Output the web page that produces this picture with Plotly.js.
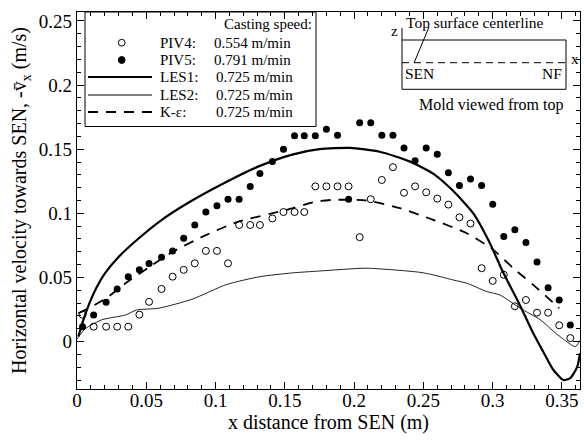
<!DOCTYPE html>
<html>
<head>
<meta charset="utf-8">
<script src="https://cdn.plot.ly/plotly-3.0.1.min.js"></script>
<style>html,body{margin:0;padding:0;background:#fff;}#chart{width:584px;height:443px;}</style>
</head>
<body>
<div id="chart"></div>
<script>
// ---- data ----
var xPIV = [0.004,0.012,0.021,0.029,0.037,0.045,0.052,0.061,0.069,0.077,0.085,0.093,0.101,0.109,0.117,0.125,0.132,0.141,0.149,0.157,0.164,0.172,0.180,0.188,0.196,0.204,0.212,0.220,0.228,0.236,0.244,0.252,0.260,0.268,0.276,0.284,0.292,0.300,0.308,0.316,0.324,0.332,0.340,0.348,0.356];
var yPIV4 = [0.021,0.0116,0.0116,0.0116,0.0116,0.021,0.031,0.041,0.0506,0.0559,0.061,0.0707,0.0707,0.061,0.0909,0.0909,0.0909,0.096,0.101,0.101,0.101,0.121,0.121,0.121,0.121,0.0814,0.111,0.126,0.136,0.116,0.121,0.1164,0.1115,0.1068,0.0969,0.092,0.0572,0.0473,0.0521,0.0275,0.0324,0.0225,0.0225,0.0127,0.0027];
var yPIV5 = [0.0116,0.0207,0.0306,0.041,0.0506,0.0559,0.0608,0.0658,0.0707,0.0806,0.0908,0.101,0.106,0.111,0.111,0.121,0.131,0.1405,0.150,0.1605,0.1605,0.1605,0.1656,0.1608,0.111,0.1707,0.1707,0.1608,0.1608,0.151,0.141,0.151,0.146,0.1316,0.1217,0.1267,0.1217,0.107,0.0819,0.0871,0.0772,0.0621,0.042,0.0324,0.0129];

var xLES1 = [0.001,0.004,0.009,0.014,0.02,0.03,0.044,0.06,0.08,0.107,0.132,0.156,0.175,0.197,0.2185,0.24,0.257,0.271,0.286,0.298,0.3066,0.3198,0.329,0.339,0.3437,0.351,0.356,0.361,0.363];
var yLES1 = [0.004,0.015,0.030,0.042,0.053,0.066,0.080,0.094,0.108,0.124,0.137,0.146,0.150,0.151,0.148,0.1405,0.131,0.118,0.100,0.0767,0.056,0.028,0.007,-0.013,-0.022,-0.030,-0.0285,-0.0197,-0.009];

var xLES2 = [0.0,0.006,0.018,0.035,0.043,0.059,0.083,0.108,0.132,0.155,0.175,0.209,0.2475,0.257,0.2716,0.2813,0.2957,0.3053,0.3198,0.3343,0.346,0.356,0.3596,0.3632];
var yLES2 = [0.002,0.010,0.017,0.0207,0.0246,0.026,0.033,0.0445,0.0506,0.0535,0.055,0.0572,0.054,0.052,0.048,0.0455,0.039,0.0363,0.026,0.017,0.006,-0.002,-0.004,0.001];

var xKE = [0.001,0.02,0.037,0.052,0.069,0.091,0.115,0.151,0.1727,0.1847,0.2089,0.233,0.2571,0.2813,0.3005,0.315,0.3295,0.344,0.348];
var yKE = [0.022,0.033,0.047,0.058,0.070,0.082,0.093,0.1027,0.1092,0.1105,0.110,0.104,0.0949,0.0845,0.0715,0.057,0.044,0.030,0.026];

var xTicks = [0,0.05,0.1,0.15,0.2,0.25,0.3,0.35];
var xTickText = ['0','0.05','0.1','0.15','0.2','0.25','0.3','0.35'];
var yTicks = [0,0.05,0.1,0.15,0.2,0.25];
var yTickText = ['0','0.05','0.1','0.15','0.2','0.25'];

var legendNames = ['PIV4:','PIV5:','LES1:','LES2:','K-\u03B5:'];
var legendSpeeds = ['0.554 m/min','0.791 m/min','0.725 m/min','0.725 m/min','0.725 m/min'];

// ---- layout helpers (pixel -> paper) ----
var ML = 77, MR = 4, MT = 12, MB = 54, W = 584, H = 443;
var PW = W - ML - MR, PH = H - MT - MB;
function px(x){ return (x - ML) / PW; }
function py(y){ return (H - MB - y) / PH; }
var FONT = 'Liberation Serif, Times New Roman, serif';

var traces = [
  {x:xLES2, y:yLES2, mode:'lines', line:{color:'#222', width:1, shape:'spline', smoothing:0.6}, showlegend:false, hoverinfo:'skip'},
  {x:xKE, y:yKE, mode:'lines', line:{color:'#000', width:1.8, dash:'10px,8px', shape:'spline', smoothing:0.6}, showlegend:false},
  {x:xLES1, y:yLES1, mode:'lines', line:{color:'#000', width:2.2, shape:'spline', smoothing:0.6}, showlegend:false},
  {x:xPIV, y:yPIV4, mode:'markers', marker:{symbol:'circle-open', size:7, color:'#000', line:{width:1, color:'#000'}}, showlegend:false},
  {x:xPIV, y:yPIV5, mode:'markers', marker:{symbol:'circle', size:7, color:'#000'}, showlegend:false}
];

var shapes = [];
var annotations = [];
function line(x0,y0,x1,y1,w,dash){
  shapes.push({type:'line', xref:'paper', yref:'paper', x0:px(x0), y0:py(y0), x1:px(x1), y1:py(y1), line:{color:'#000', width:w, dash:dash||'solid'}});
}
function text(t,x,y,anchor,size){
  annotations.push({text:t, xref:'paper', yref:'paper', x:px(x), y:py(y), xanchor:anchor||'left', yanchor:'middle', showarrow:false, font:{family:FONT, size:size||15, color:'#000'}, borderpad:0});
}

// legend box
shapes.push({type:'rect', xref:'paper', yref:'paper', x0:px(85), x1:px(316), y0:py(126.5), y1:py(12), line:{color:'#000', width:1}, fillcolor:'rgba(0,0,0,0)'});
text('Casting speed:', 313, 24, 'right');
var rowY = [43, 60, 77, 95, 112];
shapes.push({type:'circle', xref:'paper', yref:'paper', x0:px(118.3), x1:px(125.1), y0:py(46.1), y1:py(39.3), line:{color:'#000', width:1}});
shapes.push({type:'circle', xref:'paper', yref:'paper', x0:px(118.3), x1:px(125.1), y0:py(63.4), y1:py(56.6), line:{color:'#000', width:1}, fillcolor:'#000'});
line(88, 77, 152, 77, 2.2);
line(88, 95, 152, 95, 1);
line(88, 112, 152, 112, 1.8, '10px,8px');
for (var i = 0; i < legendNames.length; i++) {
  text(legendNames[i], 159, rowY[i], 'left');
  text(legendSpeeds[i], i < 2 ? 212.5 : 215, rowY[i], 'left');
}

// inset: mold viewed from top
shapes.push({type:'rect', xref:'paper', yref:'paper', x0:px(402), x1:px(566), y0:py(89.3), y1:py(40), line:{color:'#000', width:1}, fillcolor:'rgba(0,0,0,0)'});
line(402, 62.7, 568, 62.7, 1, '7px,5px');
line(402, 28, 402, 40, 1);
line(429, 27, 414, 63, 1);
text('z', 394, 31, 'center', 15);
text('x', 575, 59, 'center', 15);
text('Top surface centerline', 405, 22, 'left', 15.5);
text('SEN', 404, 73, 'left', 15.5);
text('NF', 563, 73, 'right', 15.5);
text('Mold viewed from top', 491, 105, 'center', 16);

var axisCommon = {
  showgrid:false, zeroline:false, showline:true, linecolor:'#000', linewidth:1.2, mirror:'allticks',
  ticks:'inside', ticklen:7, tickwidth:1, tickcolor:'#000',
  tickfont:{family:FONT, size:19, color:'#000'}
};

var layout = {
  width:W, height:H,
  margin:{l:ML, r:MR, t:MT, b:MB},
  paper_bgcolor:'#fff', plot_bgcolor:'#fff',
  showlegend:false,
  xaxis: Object.assign({}, axisCommon, {
    range:[0, 0.363], tickmode:'array', tickvals:xTicks, ticktext:xTickText,
    ticklabelstandoff:-6,
    minor:{dtick:0.01, ticklen:4, ticks:'inside', tickcolor:'#000', tickwidth:1},
    title:{text:'x distance from SEN (m)', font:{family:FONT, size:20, color:'#000'}, standoff:0}
  }),
  yaxis: Object.assign({}, axisCommon, {
    range:[-0.037, 0.257], tickmode:'array', tickvals:yTicks, ticktext:yTickText,
    minor:{dtick:0.01, ticklen:4, ticks:'inside', tickcolor:'#000', tickwidth:1},
    title:{text:'Horizontal velocity towards SEN, -v\u0304<sub>x</sub> (m/s)', font:{family:FONT, size:20, color:'#000'}, standoff:6}
  }),
  shapes:shapes,
  annotations:annotations
};

Plotly.newPlot('chart', traces, layout, {staticPlot:true, displayModeBar:false});
</script>
</body>
</html>
